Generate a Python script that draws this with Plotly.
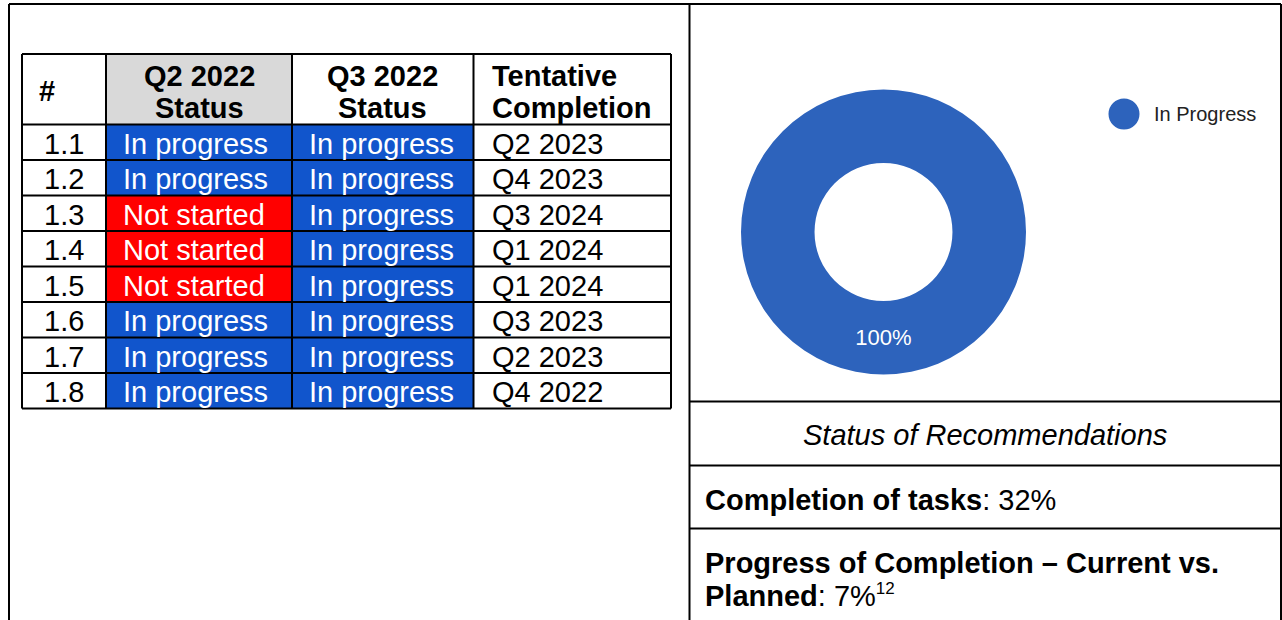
import plotly.graph_objects as go

# ---------------- data ----------------
row_ids = ["1.1", "1.2", "1.3", "1.4", "1.5", "1.6", "1.7", "1.8"]
q2_status = ["In progress", "In progress", "Not started", "Not started",
             "Not started", "In progress", "In progress", "In progress"]
q3_status = ["In progress", "In progress", "In progress", "In progress",
             "In progress", "In progress", "In progress", "In progress"]
tentative_completion = ["Q2 2023", "Q4 2023", "Q3 2024", "Q1 2024",
                        "Q1 2024", "Q3 2023", "Q2 2023", "Q4 2022"]
header_lines = [["#"], ["Q2 2022", "Status"], ["Q3 2022", "Status"],
                ["Tentative", "Completion"]]

pie_labels = ["In Progress"]
pie_values = [100]

chart_caption = "Status of Recommendations"
completion_label = "Completion of tasks"
completion_value = "32%"
progress_label_1 = "Progress of Completion \u2013 Current vs."
progress_label_2 = "Planned"
progress_value = "7%"
progress_footnote = "12"

# ---------------- style ----------------
W, H = 1282, 620
FONT = "Liberation Sans, Arial, sans-serif"
STATUS_COLORS = {"In progress": "#1155CC", "Not started": "#FF0000"}
HEADER_GRAY = "#D9D9D9"
PIE_BLUE = "#2D63BC"
LINE = "#000000"

col_edges = [22, 106, 292, 473.5, 671]
table_top = 54
header_bottom = 124.5
row_h = 35.5
frame_left, frame_top, frame_div, frame_right = 9, 4, 689.5, 1281
right_lines = [401.5, 465.5, 528.5]

shapes = []
annotations = []


def rect(x0, y0, x1, y1, fill):
    shapes.append(dict(type="rect", xref="x", yref="y", x0=x0, x1=x1, y0=y0, y1=y1,
                       fillcolor=fill, line=dict(width=0), layer="above"))


def hline(y, x0, x1, w=2, color=LINE):
    shapes.append(dict(type="line", xref="x", yref="y", x0=x0, x1=x1, y0=y, y1=y,
                       line=dict(color=color, width=w), layer="above"))


def vline(x, y0, y1, w=2, color=LINE):
    shapes.append(dict(type="line", xref="x", yref="y", x0=x, x1=x, y0=y0, y1=y1,
                       line=dict(color=color, width=w), layer="above"))


def text(x, y, s, size=29, color="#000000", xanchor="left", bold=False):
    if bold:
        s = "<b>" + s + "</b>"
    annotations.append(dict(x=x, y=y, xref="x", yref="y", text=s, showarrow=False,
                            xanchor=xanchor, yanchor="middle",
                            font=dict(family=FONT, size=size, color=color)))


# ---- table fills ----
rect(col_edges[1], table_top, col_edges[2], header_bottom, HEADER_GRAY)
n = len(row_ids)
for i in range(n):
    y0 = header_bottom + i * row_h
    y1 = y0 + row_h
    rect(col_edges[1], y0, col_edges[2], y1, STATUS_COLORS[q2_status[i]])
    rect(col_edges[2], y0, col_edges[3], y1, STATUS_COLORS[q3_status[i]])

# ---- table grid ----
table_bottom = header_bottom + n * row_h
hline(table_top, col_edges[0], col_edges[-1])
for i in range(n + 1):
    hline(header_bottom + i * row_h, col_edges[0], col_edges[-1])
for x in col_edges:
    vline(x, table_top, table_bottom)

# ---- table header text ----
hdr_line_y = [76, 107.5]
text(col_edges[0] + 15, 91, header_lines[0][0], bold=True)
for c in (1, 2):
    cx = (col_edges[c] + col_edges[c + 1]) / 2
    for k, s in enumerate(header_lines[c]):
        text(cx, hdr_line_y[k], s, bold=True, xanchor="center")
for k, s in enumerate(header_lines[3]):
    text(col_edges[3] + 16, hdr_line_y[k], s, bold=True)

# ---- table body text ----
for i in range(n):
    yc = header_bottom + (i + 0.5) * row_h + 1.5
    text((col_edges[0] + col_edges[1]) / 2, yc, row_ids[i], xanchor="center")
    text(col_edges[1] + 15, yc, q2_status[i], color="#FFFFFF")
    text(col_edges[2] + 15, yc, q3_status[i], color="#FFFFFF")
    text(col_edges[3] + 16, yc, tentative_completion[i])

# ---- outer frame ----
hline(frame_top, frame_left, frame_right)
vline(frame_left, frame_top, H)
vline(frame_div, frame_top, H)
vline(frame_right, frame_top, H)
for y in right_lines:
    hline(y, frame_div, frame_right)

# ---- right side texts ----
text((frame_div + frame_right) / 2, 435, "<i>" + chart_caption + "</i>", xanchor="center")
text(frame_div + 13, 499.5, "<b>" + completion_label + "</b>: " + completion_value)
text(frame_div + 13, 562.5, "<b>" + progress_label_1 + "</b>")
text(frame_div + 13, 595.5, "<b>" + progress_label_2 + "</b>: " + progress_value
     + "<sup><span style='font-size:17px'>" + progress_footnote + "</span></sup>")

# ---- custom legend ----
lg_x, lg_y, lg_r = 1124, 114, 15.5
shapes.append(dict(type="circle", xref="x", yref="y", x0=lg_x - lg_r, x1=lg_x + lg_r,
                   y0=lg_y - lg_r, y1=lg_y + lg_r, fillcolor=PIE_BLUE,
                   line=dict(width=0), layer="above"))
text(lg_x + 28, lg_y, pie_labels[0], size=20, color="#222222")

# ---- donut ----
cx, cy, r = 883.5, 232, 142.5
pie = go.Pie(
    labels=pie_labels, values=pie_values, hole=0.484,
    marker=dict(colors=[PIE_BLUE], line=dict(width=0)),
    texttemplate="%{percent:.0%}", textposition="inside",
    insidetextorientation="horizontal",
    insidetextfont=dict(color="#FFFFFF", size=22, family=FONT),
    sort=False, direction="clockwise", rotation=0, showlegend=False,
    domain=dict(x=[(cx - r) / W, (cx + r) / W], y=[1 - (cy + r) / H, 1 - (cy - r) / H]),
)

fig = go.Figure([pie])
fig.update_layout(
    width=W, height=H, margin=dict(l=0, r=0, t=0, b=0),
    paper_bgcolor="#FFFFFF", plot_bgcolor="#FFFFFF",
    xaxis=dict(range=[0, W], visible=False, fixedrange=True),
    yaxis=dict(range=[H, 0], visible=False, fixedrange=True),
    shapes=shapes, annotations=annotations, showlegend=False,
)
fig.write_html(
    "out.html",
    config={"displayModeBar": False},
    post_script="document.body.style.margin='0';document.body.style.overflow='hidden';",
)
